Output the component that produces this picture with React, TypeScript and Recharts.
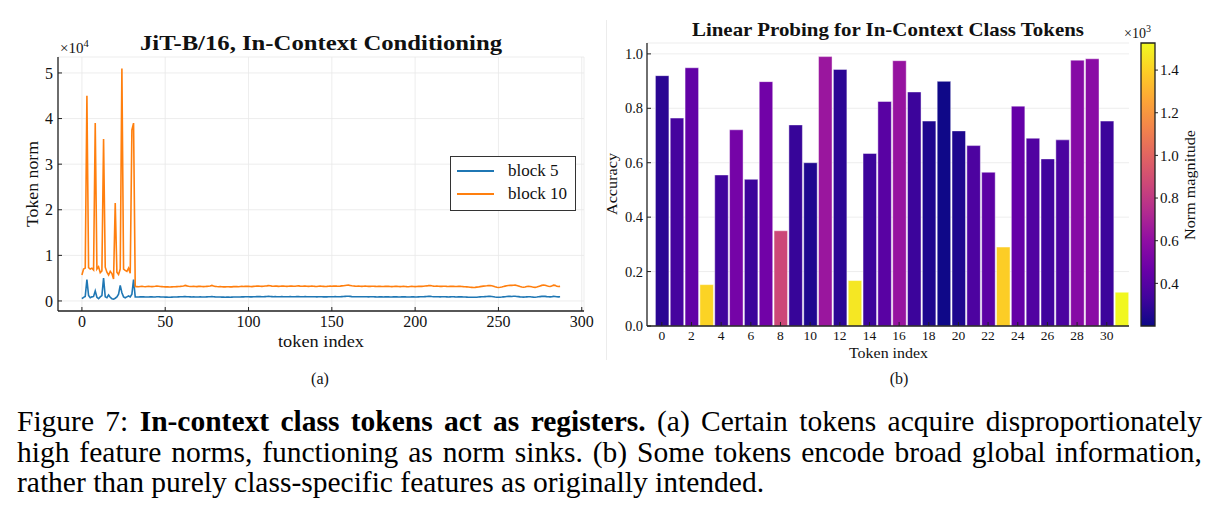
import React from 'react';
import {
  LineChart,
  Line,
  BarChart,
  Bar,
  Cell,
  ComposedChart,
  ReferenceArea,
  XAxis,
  YAxis,
  CartesianGrid,
  Legend,
} from 'recharts';

const SERIF = "'Liberation Serif', 'DejaVu Serif', serif";
const INK = '#111';
const FRAME = '#222';

// ---- (a) token norms per token index; tokens 0-31 are the in-context class tokens ----
const block5Head = [
  500, 800, 1000, 4700, 1200, 700, 900, 1000, 2200, 800, 500, 900, 1200, 5000, 900, 700,
  1300, 800, 500, 400, 600, 900, 1500, 3400, 1800, 900, 700, 900, 1100, 900, 1500, 4700,
];
const block5Tail = [
  900, 880, 870, 890, 910, 900, 870, 860, 880, 900, 890, 870, 880, 910, 930, 900,
  880, 860, 840, 850, 830, 820, 850, 870, 860, 880, 900, 910, 930, 950, 990, 940,
  910, 890, 870, 900, 880, 860, 880, 900, 880, 860, 870, 890, 910, 940, 990, 930,
  900, 880, 860, 870, 850, 840, 830, 850, 840, 830, 850, 870, 880, 870, 860, 880,
  900, 890, 910, 930, 920, 900, 890, 910, 930, 950, 970, 950, 930, 940, 960, 980,
  1000, 970, 950, 930, 950, 940, 920, 930, 950, 940, 920, 910, 930, 950, 940, 920,
  930, 950, 960, 940, 920, 930, 950, 930, 910, 920, 940, 930, 910, 900, 920, 930,
  920, 900, 890, 900, 920, 930, 920, 940, 950, 930, 920, 940, 960, 980, 1010, 1030,
  1040, 1000, 960, 940, 930, 920, 940, 930, 910, 920, 930, 910, 900, 910, 930, 920,
  900, 880, 890, 910, 890, 870, 890, 910, 900, 880, 870, 890, 910, 900, 880, 870,
  890, 910, 900, 880, 860, 880, 900, 890, 870, 880, 900, 920, 910, 930, 950, 970,
  1000, 1010, 970, 940, 920, 930, 910, 900, 910, 930, 920, 900, 880, 900, 920, 910,
  890, 880, 900, 910, 890, 870, 860, 850, 830, 820, 810, 800, 810, 830, 860, 890,
  920, 940, 960, 980, 1000, 1010, 990, 940, 880, 830, 810, 830, 860, 900, 940, 970,
  1000, 1010, 990, 1020, 1030, 990, 950, 900, 860, 840, 860, 900, 930, 910, 870, 840,
  830, 860, 910, 960, 1000, 1040, 1010, 960, 920, 900, 930, 1010, 990, 920, 900, 910,
];
const block10Head = [
  5700, 7000, 7200, 45000, 7300, 7000, 7200, 6800, 39000, 7000, 7500, 6200, 6600, 35500, 7400, 6300,
  5700, 6500, 6000, 4800, 21500, 6300, 5800, 7000, 51000, 7000, 6700, 6500, 7200, 6100, 37500, 39000,
];
const block10Tail = [
  3180, 3150, 3120, 3170, 3200, 3160, 3130, 3180, 3210, 3170, 3140, 3190, 3220, 3260, 3230, 3180,
  3150, 3120, 3090, 3110, 3080, 3060, 3100, 3130, 3110, 3150, 3180, 3200, 3240, 3300, 3420, 3310,
  3220, 3180, 3160, 3200, 3170, 3140, 3190, 3210, 3180, 3150, 3170, 3200, 3230, 3290, 3410, 3280,
  3200, 3160, 3130, 3150, 3120, 3100, 3090, 3130, 3110, 3080, 3100, 3140, 3170, 3150, 3120, 3160,
  3190, 3160, 3200, 3230, 3210, 3170, 3150, 3190, 3220, 3250, 3280, 3240, 3200, 3230, 3270, 3310,
  3370, 3320, 3260, 3230, 3270, 3250, 3210, 3240, 3280, 3260, 3230, 3200, 3240, 3270, 3250, 3220,
  3240, 3280, 3300, 3260, 3230, 3250, 3280, 3240, 3210, 3230, 3260, 3240, 3200, 3180, 3220, 3250,
  3230, 3200, 3170, 3190, 3220, 3250, 3230, 3260, 3280, 3250, 3230, 3260, 3300, 3340, 3400, 3460,
  3480, 3410, 3330, 3280, 3250, 3230, 3260, 3240, 3210, 3230, 3250, 3220, 3190, 3210, 3240, 3220,
  3200, 3170, 3190, 3210, 3180, 3160, 3190, 3220, 3200, 3170, 3150, 3180, 3210, 3190, 3160, 3140,
  3170, 3200, 3180, 3150, 3130, 3160, 3190, 3170, 3140, 3160, 3190, 3220, 3200, 3230, 3270, 3300,
  3360, 3390, 3320, 3260, 3230, 3250, 3220, 3190, 3210, 3240, 3220, 3190, 3170, 3200, 3230, 3210,
  3180, 3160, 3190, 3210, 3180, 3150, 3130, 3100, 3060, 3020, 2990, 2960, 2980, 3030, 3080, 3140,
  3200, 3250, 3290, 3320, 3360, 3380, 3340, 3250, 3120, 3000, 2960, 3010, 3080, 3160, 3250, 3330,
  3400, 3440, 3410, 3450, 3470, 3390, 3290, 3150, 3060, 3020, 3080, 3170, 3230, 3190, 3100, 3020,
  2990, 3060, 3180, 3300, 3420, 3500, 3430, 3320, 3230, 3180, 3260, 3480, 3420, 3210, 3160, 3190,
];
const block5 = [...block5Head, ...block5Tail];
const block10 = [...block10Head, ...block10Tail];
const seriesOrder = ['block5', 'block10'];

const tokenTicks = [0, 50, 100, 150, 200, 250, 300];
const normTicks = [0, 10000, 20000, 30000, 40000, 50000];

const normRows = block5.map((v, i) => ({ token: i, block5: v, block10: block10[i] }));

// ---- (b) linear probing accuracy per class token, colored by token norm ----
const probeAccuracy = [
  0.92, 0.764, 0.949, 0.152, 0.555, 0.721, 0.539, 0.898, 0.35, 0.739, 0.6, 0.99, 0.943, 0.167, 0.634, 0.825,
  0.975, 0.86, 0.753, 0.899, 0.717, 0.663, 0.565, 0.29, 0.808, 0.69, 0.614, 0.684, 0.977, 0.982, 0.753, 0.124,
];
const probeNorm = [
  274, 346, 440, 1410, 330, 505, 320, 490, 864, 306, 246, 640, 280, 1470, 320, 410,
  625, 320, 240, 205, 240, 370, 420, 1390, 450, 385, 330, 366, 565, 580, 320, 1520,
];
const probeTicks = [0, 2, 4, 6, 8, 10, 12, 14, 16, 18, 20, 22, 24, 26, 28, 30];
const accTicks = [0, 0.2, 0.4, 0.6, 0.8, 1.0];
const cbarTicks = [400, 600, 800, 1000, 1200, 1400];
const NORM_MIN = 200;
const NORM_MAX = 1527;

const probeRows = probeAccuracy.map((acc, i) => ({ token: i, acc, norm: probeNorm[i] }));

// matplotlib "plasma", sampled every 0.1
const plasmaStops = [
  '#0d0887', '#41049d', '#6a00a8', '#8f0da4', '#b12a90', '#cc4778',
  '#e16462', '#f2844b', '#fca636', '#fcce25', '#f0f921',
];

function hexToRgb(h: string) {
  return [1, 3, 5].map((k) => parseInt(h.slice(k, k + 2), 16));
}

function plasma(t: number) {
  const c = Math.min(1, Math.max(0, t)) * 10;
  const i = Math.min(9, Math.floor(c));
  const f = c - i;
  const a = hexToRgb(plasmaStops[i]);
  const b = hexToRgb(plasmaStops[i + 1]);
  const rgb = a.map((v, k) => Math.round(v + (b[k] - v) * f));
  return `rgb(${rgb[0]},${rgb[1]},${rgb[2]})`;
}

const normColor = (n: number) => plasma((n - NORM_MIN) / (NORM_MAX - NORM_MIN));

function NormLegend({ payload }: any) {
  const items = [...(payload || [])].sort(
    (a: any, b: any) => seriesOrder.indexOf(a.dataKey) - seriesOrder.indexOf(b.dataKey),
  );
  return (
    <div
      style={{
        width: 126,
        height: 55,
        boxSizing: 'border-box',
        border: '1.3px solid #333',
        background: '#fff',
        fontFamily: SERIF,
        fontSize: 17,
        color: INK,
        padding: '2px 0 0 6px',
      }}
    >
      {items.map((item: any) => (
        <div key={item.value} style={{ display: 'flex', alignItems: 'center', height: 23.5 }}>
          <span style={{ display: 'inline-block', width: 37, borderTop: `2px solid ${item.color}`, marginRight: 14 }} />
          <span>{item.value}</span>
        </div>
      ))}
    </div>
  );
}

const axisLine = { stroke: FRAME, strokeWidth: 1.3 };
const tickLine = { stroke: FRAME, strokeWidth: 1 };

export default function App() {
  return (
    <div
      style={{
        position: 'absolute',
        left: 0,
        top: 0,
        width: 1222,
        height: 527,
        background: '#fff',
        overflow: 'hidden',
      }}
    >
      {/* (a) token norms */}
      <div style={{ position: 'absolute', left: 0, top: 0 }}>
        <LineChart width={600} height={365} data={normRows} margin={{ top: 57, right: 16, bottom: 14, left: 18 }}>
          <CartesianGrid stroke="#e8e8e8" strokeWidth={0.8} />
          <XAxis
            dataKey="token"
            type="number"
            domain={[-14.35, 301.35]}
            ticks={tokenTicks}
            allowDataOverflow
            height={40}
            axisLine={axisLine}
            tickLine={tickLine}
            tickSize={-4}
            tickMargin={9}
            tick={{ fontSize: 16, fill: INK, fontFamily: SERIF }}
          />
          <XAxis
            xAxisId="top"
            orientation="top"
            type="number"
            domain={[-14.35, 301.35]}
            ticks={tokenTicks}
            allowDataOverflow
            height={0}
            axisLine={axisLine}
            tickLine={tickLine}
            tickSize={-4}
            tick={false}
          />
          <YAxis
            type="number"
            domain={[-2200, 53500]}
            ticks={normTicks}
            allowDataOverflow
            width={40}
            axisLine={axisLine}
            tickLine={tickLine}
            tickSize={-4}
            tickMargin={9}
            tickFormatter={(v: number) => String(v / 10000)}
            tick={{ fontSize: 16, fill: INK, fontFamily: SERIF }}
          />
          <YAxis
            yAxisId="right"
            orientation="right"
            type="number"
            domain={[-2200, 53500]}
            ticks={normTicks}
            allowDataOverflow
            width={0}
            axisLine={axisLine}
            tickLine={tickLine}
            tickSize={-4}
            tick={false}
          />
          <Line
            dataKey="block5"
            name="block 5"
            type="linear"
            stroke="#1f77b4"
            strokeWidth={1.6}
            dot={false}
            isAnimationActive={false}
          />
          <Line
            dataKey="block10"
            name="block 10"
            type="linear"
            stroke="#ff7f0e"
            strokeWidth={1.6}
            dot={false}
            isAnimationActive={false}
          />
          <Legend
            layout="vertical"
            align="center"
            verticalAlign="middle"
            content={NormLegend}
            wrapperStyle={{ left: 450, top: 156, width: 126 }}
          />
        </LineChart>
      </div>

      {/* (b) linear probing */}
      <div style={{ position: 'absolute', left: 600, top: 0 }}>
        <BarChart width={540} height={400} data={probeRows} margin={{ top: 43, right: 11, bottom: 34, left: 7 }}>
          <CartesianGrid stroke="#e8e8e8" strokeWidth={0.8} vertical={false} />
          <XAxis
            dataKey="token"
            type="number"
            domain={[-1, 31.5]}
            ticks={probeTicks}
            allowDataOverflow
            height={40}
            axisLine={axisLine}
            tickLine={tickLine}
            tickSize={-4}
            tickMargin={8.5}
            tick={{ fontSize: 13.5, fill: INK, fontFamily: SERIF }}
          />
          <XAxis
            xAxisId="top"
            orientation="top"
            type="number"
            domain={[-1, 31.5]}
            ticks={probeTicks}
            allowDataOverflow
            height={0}
            axisLine={axisLine}
            tickLine={tickLine}
            tickSize={-4}
            tick={false}
          />
          <YAxis
            type="number"
            domain={[0, 1.04]}
            ticks={accTicks}
            allowDataOverflow
            width={40}
            axisLine={axisLine}
            tickLine={tickLine}
            tickSize={-4}
            tickMargin={8}
            tickFormatter={(v: number) => v.toFixed(1)}
            tick={{ fontSize: 14.5, fill: INK, fontFamily: SERIF }}
          />
          <YAxis
            yAxisId="right"
            orientation="right"
            type="number"
            domain={[0, 1.04]}
            ticks={accTicks}
            allowDataOverflow
            width={0}
            axisLine={axisLine}
            tickLine={tickLine}
            tickSize={-4}
            tick={false}
          />
          <Bar dataKey="acc" barSize={13.5} stroke="#ffffff" strokeOpacity={0.55} strokeWidth={0.8} isAnimationActive={false}>
            {probeRows.map((r) => (
              <Cell key={r.token} fill={normColor(r.norm)} />
            ))}
          </Bar>
        </BarChart>
      </div>

      {/* colorbar for the norm magnitude */}
      <div style={{ position: 'absolute', left: 1120, top: 0 }}>
        <ComposedChart width={100} height={400} data={[{ x: 0 }, { x: 1 }]} margin={{ top: 43, right: 25, bottom: 74, left: 21 }}>
          <defs>
            <linearGradient id="plasmaBar" x1="0" y1="1" x2="0" y2="0">
              {plasmaStops.map((c, i) => (
                <stop key={c} offset={i / 10} stopColor={c} />
              ))}
            </linearGradient>
          </defs>
          <XAxis dataKey="x" type="number" domain={[0, 1]} hide />
          <YAxis
            orientation="right"
            type="number"
            domain={[NORM_MIN, NORM_MAX]}
            ticks={cbarTicks}
            allowDataOverflow
            width={40}
            axisLine={false}
            tickLine={tickLine}
            tickSize={3}
            tickMargin={2}
            tickFormatter={(v: number) => (v / 1000).toFixed(1)}
            tick={{ fontSize: 15, fill: INK, fontFamily: SERIF }}
          />
          <ReferenceArea
            x1={0}
            x2={1}
            y1={NORM_MIN}
            y2={NORM_MAX}
            fill="url(#plasmaBar)"
            fillOpacity={1}
            stroke={FRAME}
            strokeWidth={1.3}
            ifOverflow="visible"
          />
        </ComposedChart>
      </div>

      {/* titles, axis labels and panel tags */}
      <svg
        width={1222}
        height={527}
        style={{ position: 'absolute', left: 0, top: 0, pointerEvents: 'none' }}
        fontFamily={SERIF}
        fill={INK}
      >
        <line x1={606.5} y1={20} x2={606.5} y2={360} stroke="#ececec" strokeWidth={1} />

        <text x={321} y={50} textAnchor="middle" fontSize={20} fontWeight="bold" textLength={362} lengthAdjust="spacingAndGlyphs">
          JiT-B/16, In-Context Conditioning
        </text>
        <text x={60} y={53} fontSize={15}>
          ×10<tspan dy={-6} fontSize={10.5}>4</tspan>
        </text>
        <text x={38} y={184} textAnchor="middle" fontSize={17} textLength={86} lengthAdjust="spacingAndGlyphs" transform="rotate(-90 38 184)">
          Token norm
        </text>
        <text x={321} y={347} textAnchor="middle" fontSize={17.5} textLength={86} lengthAdjust="spacingAndGlyphs">
          token index
        </text>
        <text x={320} y={384} textAnchor="middle" fontSize={16}>
          (a)
        </text>

        <text x={888} y={36} textAnchor="middle" fontSize={19} fontWeight="bold" textLength={392} lengthAdjust="spacingAndGlyphs">
          Linear Probing for In-Context Class Tokens
        </text>
        <text x={617} y={184} textAnchor="middle" fontSize={15.5} textLength={62} lengthAdjust="spacingAndGlyphs" transform="rotate(-90 617 184)">
          Accuracy
        </text>
        <text x={888.5} y={358} textAnchor="middle" fontSize={15} textLength={79} lengthAdjust="spacingAndGlyphs">
          Token index
        </text>
        <text x={899} y={384} textAnchor="middle" fontSize={16}>
          (b)
        </text>
        <text x={1124} y={38} fontSize={14}>
          ×10<tspan dy={-6} fontSize={10}>3</tspan>
        </text>
        <text x={1195} y={185} textAnchor="middle" fontSize={15} textLength={110} lengthAdjust="spacingAndGlyphs" transform="rotate(-90 1195 185)">
          Norm magnitude
        </text>
      </svg>

      {/* caption */}
      <div
        style={{
          position: 'absolute',
          left: 17,
          top: 406,
          width: 1185,
          fontFamily: SERIF,
          fontSize: 29.5,
          lineHeight: '30.7px',
          color: '#000',
        }}
      >
        <div style={{ textAlign: 'justify', textAlignLast: 'justify', whiteSpace: 'nowrap' }}>
          Figure 7: <b>In-context class tokens act as registers.</b> (a) Certain tokens acquire disproportionately
        </div>
        <div style={{ textAlign: 'justify', textAlignLast: 'justify', whiteSpace: 'nowrap' }}>
          high feature norms, functioning as norm sinks. (b) Some tokens encode broad global information,
        </div>
        <div style={{ whiteSpace: 'nowrap' }}>rather than purely class-specific features as originally intended.</div>
      </div>
    </div>
  );
}
